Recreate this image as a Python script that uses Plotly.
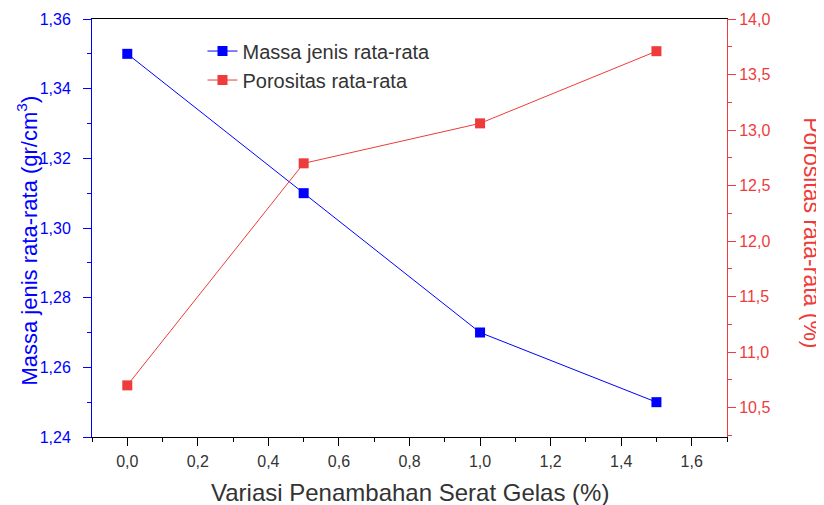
import plotly.graph_objects as go

serat = [0.0, 0.5, 1.0, 1.5]
massa_jenis = [1.35, 1.31, 1.27, 1.25]
porositas = [10.70, 12.70, 13.06, 13.71]

BLUE = "#0000ff"
RED = "#ee3b3b"
FONT = "Liberation Sans, Arial, sans-serif"

fig = go.Figure()
fig.add_trace(go.Scatter(
    x=serat, y=massa_jenis, name="Massa jenis rata-rata",
    mode="lines+markers", line=dict(color=BLUE, width=1),
    marker=dict(symbol="square", size=10, color=BLUE), yaxis="y"))
fig.add_trace(go.Scatter(
    x=serat, y=porositas, name="Porositas rata-rata",
    mode="lines+markers", line=dict(color=RED, width=1),
    marker=dict(symbol="square", size=10, color=RED), yaxis="y2"))

# page has an 8px body margin, so the figure is 816x497 and shifted by 8px
fig.update_layout(
    width=816, height=497,
    margin=dict(l=84, r=97, t=11, b=68, autoexpand=False),
    paper_bgcolor="white", plot_bgcolor="white",
    separators=",.",
    font=dict(family=FONT, size=16, color="#333333"),
    showlegend=True,
    legend=dict(x=0.174, y=0.97, xanchor="left", yanchor="top",
                bgcolor="rgba(0,0,0,0)", font=dict(size=20, color="#333333"),
                tracegroupgap=0),
    xaxis=dict(
        range=[-0.1, 1.7], tickvals=[0, 0.2, 0.4, 0.6, 0.8, 1.0, 1.2, 1.4, 1.6],
        tickformat=".1f", ticks="outside", ticklen=8, tickwidth=1, tickcolor="black",
        minor=dict(dtick=0.1, tick0=0, ticks="outside", ticklen=4, tickcolor="black"),
        showline=True, linecolor="black", linewidth=1, mirror=True,
        showgrid=False, zeroline=False, automargin=False,
        ticklabelstandoff=2,
        tickfont=dict(size=16, color="#333333"),
    ),
    yaxis=dict(
        range=[1.24, 1.36], dtick=0.02, tick0=1.24, tickformat=".2f",
        ticks="outside", ticklen=8, tickwidth=1, tickcolor=BLUE,
        minor=dict(dtick=0.01, ticks="outside", ticklen=4, tickcolor=BLUE),
        showline=True, linecolor=BLUE, linewidth=1,
        showgrid=False, zeroline=False, automargin=False,
        ticklabelstandoff=9,
        tickfont=dict(size=16, color=BLUE),
    ),
    yaxis2=dict(
        overlaying="y", side="right",
        range=[10.235, 14.0], tickvals=[10.5, 11.0, 11.5, 12.0, 12.5, 13.0, 13.5, 14.0],
        tickformat=".1f",
        ticks="outside", ticklen=8, tickwidth=1, tickcolor=RED,
        minor=dict(tickvals=[10.25, 10.75, 11.25, 11.75, 12.25, 12.75, 13.25, 13.75],
                   ticks="outside", ticklen=4, tickcolor=RED),
        showline=True, linecolor=RED, linewidth=1,
        showgrid=False, zeroline=False, automargin=False,
        tickfont=dict(size=16, color=RED),
    ),
    annotations=[
        dict(text="Variasi Penambahan Serat Gelas (%)",
             xref="paper", yref="paper", x=0.5, y=0, xanchor="center", yanchor="middle",
             yshift=-55, showarrow=False, font=dict(size=24, color="#333333", family=FONT)),
        dict(text="Massa jenis rata-rata (gr/cm<sup>3</sup>)", textangle=-90,
             xref="paper", yref="paper", x=0, y=0.47, xanchor="center", yanchor="middle",
             xshift=-65, showarrow=False, font=dict(size=22, color=BLUE, family=FONT)),
        dict(text="Porositas rata-rata (%)", textangle=90,
             xref="paper", yref="paper", x=1.0, y=0.49, xanchor="center", yanchor="middle",
             xshift=85, showarrow=False, font=dict(size=23, color=RED, family=FONT)),
    ],
)

fig.write_html("out.html")
